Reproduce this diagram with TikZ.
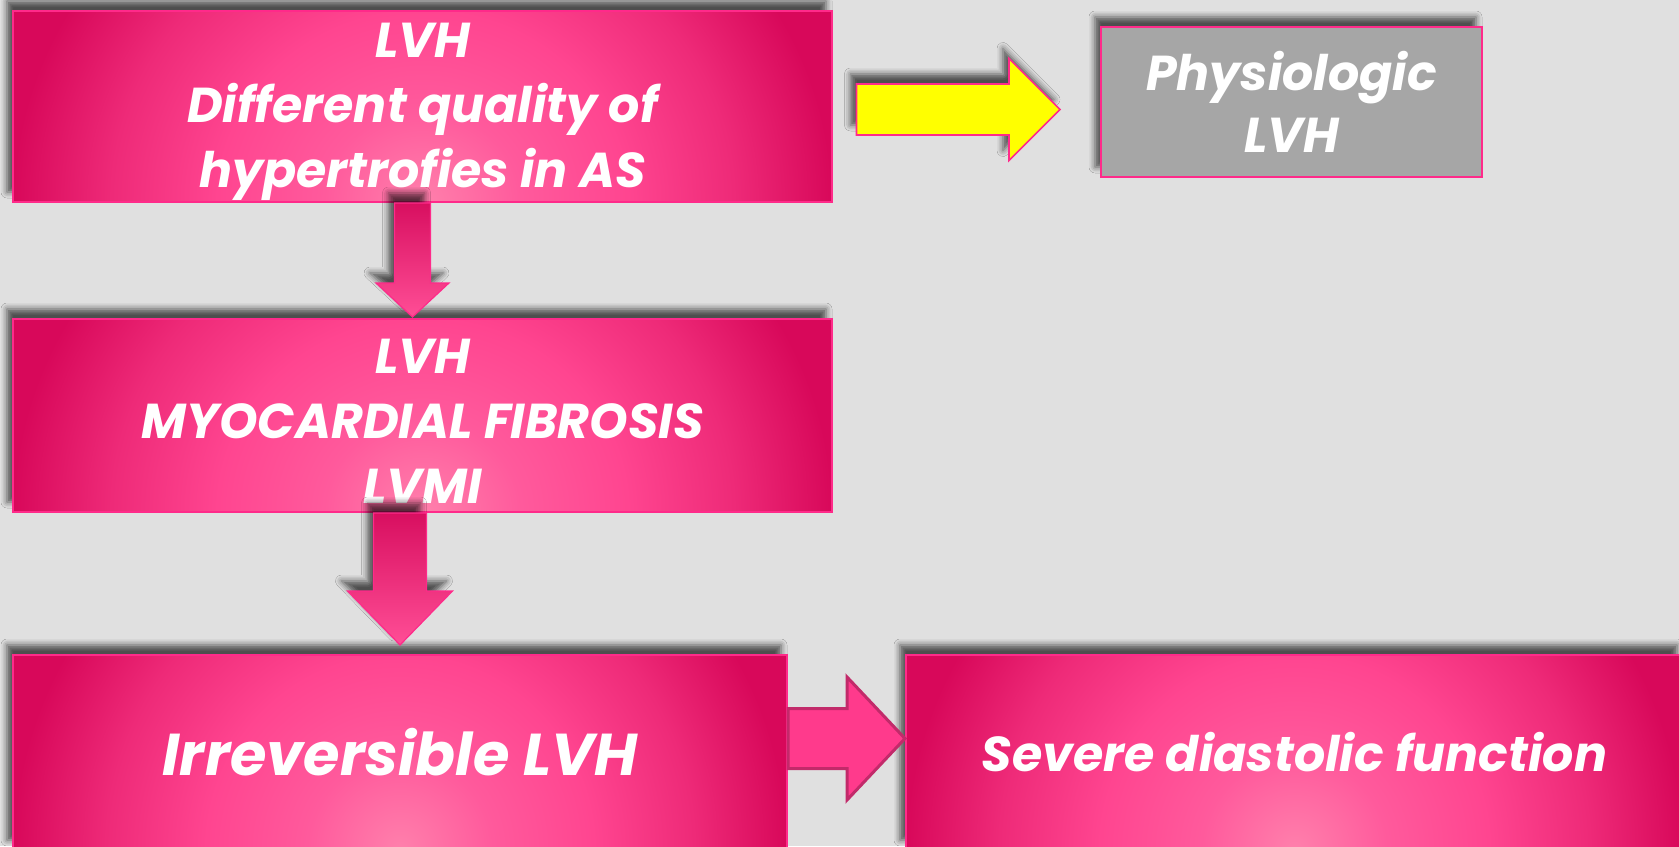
\documentclass[tikz,border=0pt]{standalone}
\usepackage{fontspec}
\setmainfont{Poppins}
\usetikzlibrary{calc,shadows.blur}
\definecolor{bgc}{HTML}{E0E0E0}
\definecolor{pkborder}{HTML}{FF2A8A}
\definecolor{pkA}{HTML}{FF80AC}
\definecolor{pkB}{HTML}{FF5A9C}
\definecolor{pkC}{HTML}{FF4590}
\definecolor{pkD}{HTML}{EE2A78}
\definecolor{pkE}{HTML}{D8085A}
\definecolor{physgray}{HTML}{A6A6A6}
\definecolor{yel}{HTML}{FFFF00}
\definecolor{arrfill}{HTML}{FF3A8C}
\definecolor{arrborder}{HTML}{C22A6A}
\definecolor{dnTop}{HTML}{D80F60}
\definecolor{dnBot}{HTML}{FF4E96}
\pgfdeclareradialshading{pinkrad}{\pgfpoint{0bp}{0bp}}{color(0bp)=(pkA); color(6bp)=(pkB); color(12.5bp)=(pkC); color(19bp)=(pkD); color(25bp)=(pkE); color(50bp)=(pkE)}
\tikzset{
  softshadow/.style={blur shadow={shadow xshift=-3pt, shadow yshift=5pt, shadow blur radius=3pt, shadow opacity=65}},
  pinkbox/.style={draw=pkborder, line width=1pt, fill=pkE, text=white, align=center, inner sep=0pt, softshadow,
    font=\bfseries\itshape\fontsize{24.5}{32.5}\selectfont,
    path picture={\shade[shading=pinkrad] let \p1=(path picture bounding box.south west), \p2=(path picture bounding box.north east) in (\x1,{\y1-2*(\y2-\y1)}) rectangle (\x2,{\y2+(\y2-\y1)});}},
  graybox/.style={draw=pkborder, line width=1pt, fill=physgray, text=white, align=center, inner sep=0pt, softshadow,
    font=\bfseries\itshape\fontsize{24.5}{31}\selectfont},
  dnarrow/.style={draw=pkborder, line width=0.6pt, top color=dnTop, bottom color=dnBot, softshadow},
  rarrow/.style={draw=arrborder, line width=1.5pt, fill=arrfill},
  yarrow/.style={draw=pkborder, line width=0.8pt, fill=yel, softshadow}
}
\begin{document}
\begin{tikzpicture}[x=0.5pt,y=-0.5pt]
\fill[bgc] (0,0) rectangle (1679,846);
\useasboundingbox (0,0) rectangle (1679,846);

\node[pinkbox, minimum width=409.5pt, minimum height=95.5pt] (b1) at (422.5,106.5) {\raisebox{-2.7pt}[\height][\depth]{\parbox{400pt}{\centering LVH\\Different quality of\\hypertrofies in AS}}};
\node[pinkbox, minimum width=409.5pt, minimum height=96.5pt] (b2) at (422.5,415.5) {\raisebox{-2.7pt}[\height][\depth]{\parbox{400pt}{\centering LVH\\MYOCARDIAL FIBROSIS\\LVMI}}};
\node[pinkbox, minimum width=387pt, minimum height=97.5pt, font=\bfseries\itshape\fontsize{29.5}{36}\selectfont] (b3) at (400,752.5) {Irreversible LVH};
\node[pinkbox, minimum width=388.5pt, minimum height=97.5pt, font=\bfseries\itshape\fontsize{24.5}{32}\selectfont] (b4) at (1294.5,752.5) {Severe diastolic function};
\node[graybox, minimum width=190.5pt, minimum height=75pt] (phys) at (1291.5,102) {Physiologic\\LVH};

% down arrow 1
\coordinate (a1s) at ($(b1.south)+(-10,0)$);
\coordinate (a1e) at ($(b2.north)+(-10,-1)$);
\path[dnarrow] let \p1=(a1s), \p2=(a1e) in
  (\x1-9pt,\y1) -- (\x1+9pt,\y1) -- (\x1+9pt,\y2+17pt) -- (\x1+18.25pt,\y2+17pt) -- (\x1,\y2)
  -- (\x1-18.25pt,\y2+17pt) -- (\x1-9pt,\y2+17pt) -- cycle;

% down arrow 2
\coordinate (a2s) at ($(b2.south)+(-22.5,0)$);
\coordinate (a2e) at ($(b3.north)+(0,-9)$);
\path[dnarrow] let \p1=(a2s), \p2=(a2e) in
  (\x1-13.25pt,\y1) -- (\x1+13.25pt,\y1) -- (\x1+13.25pt,\y2+27pt) -- (\x1+26.25pt,\y2+27pt) -- (\x1,\y2)
  -- (\x1-26.25pt,\y2+27pt) -- (\x1-13.25pt,\y2+27pt) -- cycle;

% right arrow
\coordinate (a3s) at ($(b3.east)+(0,-14)$);
\coordinate (a3e) at ($(b4.west)+(0,-14)$);
\path[rarrow] let \p1=(a3s), \p2=(a3e) in
  (\x1,\y1+15pt) -- (\x2-29pt,\y1+15pt) -- (\x2-29pt,\y1+30.75pt) -- (\x2,\y2)
  -- (\x2-29pt,\y1-30.75pt) -- (\x2-29pt,\y1-15pt) -- (\x1,\y1-15pt) -- cycle;

% yellow arrow
\coordinate (ys) at ($(b1.east)+(23.5,3)$);
\coordinate (ye) at ($(phys.west)+(-40,7.5)$);
\path[yarrow] let \p1=(ys), \p2=(ye) in
  (\x1,\y1+12.75pt) -- (\x2-25.5pt,\y1+12.75pt) -- (\x2-25.5pt,\y1+25.5pt) -- (\x2,\y2)
  -- (\x2-25.5pt,\y1-25.5pt) -- (\x2-25.5pt,\y1-12.75pt) -- (\x1,\y1-12.75pt) -- cycle;
\end{tikzpicture}
\end{document}
